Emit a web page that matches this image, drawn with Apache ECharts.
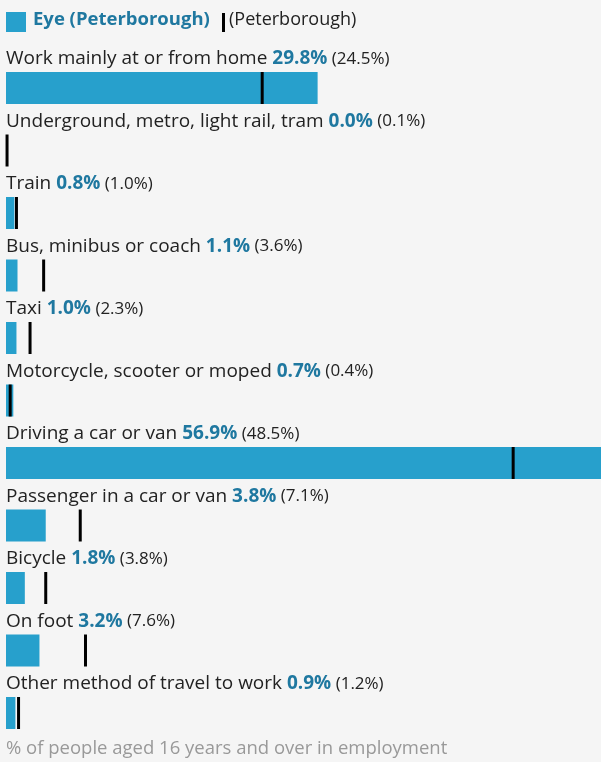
<!DOCTYPE html>
<html><head><meta charset="utf-8">
<script src="https://cdn.jsdelivr.net/npm/echarts@6/dist/echarts.min.js"></script>
<style>html,body{margin:0;padding:0;background:#f5f5f5;}#c{width:601px;height:762px;}</style>
</head><body><div id="c"></div>
<script>
const categories = ["Work mainly at or from home","Underground, metro, light rail, tram","Train","Bus, minibus or coach","Taxi","Motorcycle, scooter or moped","Driving a car or van","Passenger in a car or van","Bicycle","On foot","Other method of travel to work"];
const areaValues = [29.8,0.0,0.8,1.1,1.0,0.7,56.9,3.8,1.8,3.2,0.9];
const compareValues = [24.5,0.1,1.0,3.6,2.3,0.4,48.5,7.1,3.8,7.6,1.2];
const areaName = "Eye (Peterborough)";
const compareName = "(Peterborough)";
const footnote = "% of people aged 16 years and over in employment";

const FONT = "'Open Sans', sans-serif";
const BLUE = "#27a0cc";
const VAL = "#1f78a0";
const chart = echarts.init(document.getElementById('c'), null, {renderer:'canvas'});
chart.setOption({
  backgroundColor: '#f5f5f5',
  animation: false,
  grid: {left: 6, right: 0, top: 56.75, bottom: 17.75, containLabel: false},
  xAxis: {type:'value', min:0, max: Math.max(...areaValues), show:false},
  yAxis: {type:'category', data: categories, inverse:true, show:false},
  series: [
    {type:'bar', name: areaName, data: areaValues, barWidth: 32, itemStyle:{color: BLUE},
     label: {show:true, position:[0,-13], verticalAlign:'middle', align:'left',
       formatter: p => '{a|' + categories[p.dataIndex] + ' }{b|' + areaValues[p.dataIndex].toFixed(1) + '%}{c| (' + compareValues[p.dataIndex].toFixed(1) + '%)}',
       rich: {
         a:{fontFamily:FONT, fontSize:19, color:'#222'},
         b:{fontFamily:FONT, fontSize:19, fontWeight:'bold', color:VAL},
         c:{fontFamily:FONT, fontSize:17, color:'#222'}
       }}},
    {type:'scatter', name: compareName, data: compareValues, symbol:'rect', symbolSize:[3,32], itemStyle:{color:'#000', opacity:1}, z:5}
  ],
  graphic: [
    {type:'rect', left:6, top:12, shape:{width:20, height:20}, style:{fill:BLUE}},
    {type:'text', left:33, top:10, style:{text: areaName, font:"bold 18.5px 'Open Sans', sans-serif", fill:VAL}},
    {type:'rect', left:222, top:13, shape:{width:3, height:19}, style:{fill:'#000'}},
    {type:'text', left:229, top:11, style:{text: compareName, font:"18px 'Open Sans', sans-serif", fill:'#222'}},
    {type:'text', left:6, top:739, style:{text: footnote, font:"18.5px 'Open Sans', sans-serif", fill:'#999'}}
  ]
});
</script></body></html>
